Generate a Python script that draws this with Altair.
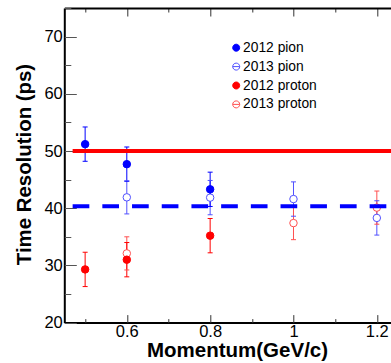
import altair as alt
import pandas as pd

# ---- data ----
series_names = ["2012 pion", "2013 pion", "2012 proton", "2013 proton"]

pion12_x = [0.5, 0.6, 0.8]
pion12_y = [51.2, 47.7, 43.3]
pion12_e = [3.0, 3.0, 3.0]

pion13_x = [0.6, 0.8, 1.0, 1.2]
pion13_y = [41.9, 41.85, 41.6, 38.3]
pion13_e = [2.9, 3.0, 3.0, 3.0]

proton12_x = [0.5, 0.6, 0.8]
proton12_y = [29.3, 31.0, 35.2]
proton12_e = [3.0, 3.0, 3.0]

proton13_x = [0.6, 1.0, 1.2]
proton13_y = [32.1, 37.4, 40.1]
proton13_e = [2.9, 2.9, 2.9]

fit_proton_y = [50.0]
fit_pion_y = [40.35]
fit_x_start = [0.47]
fit_x_end = [1.234]

x_label_values = [0.6, 0.8, 1.0, 1.2]
x_tick_values = [0.5, 0.6, 0.7, 0.8, 0.9, 1.0, 1.1, 1.2]
y_label_values = [20, 30, 40, 50, 60, 70]
y_tick_values = [20, 25, 30, 35, 40, 45, 50, 55, 60, 65, 70, 75]

# ---- tables ----
rows = []
# open markers first so the filled ones are drawn over them
for name, xs_, ys_, es_ in [
    ("2013 pion", pion13_x, pion13_y, pion13_e),
    ("2013 proton", proton13_x, proton13_y, proton13_e),
    ("2012 pion", pion12_x, pion12_y, pion12_e),
    ("2012 proton", proton12_x, proton12_y, proton12_e),
]:
    for x, y, e in zip(xs_, ys_, es_):
        rows.append({"series": name, "x": x, "y": y, "err": e})
df = pd.DataFrame(rows)

fit_red = pd.DataFrame({"x": fit_x_start, "x2": fit_x_end, "y": fit_proton_y})
fit_blue = pd.DataFrame({"x": fit_x_start, "x2": fit_x_end, "y": fit_pion_y})

W, H = 326.7, 314.6
XDOM = [0.45, 1.234]
YDOM = [20, 75]
FONT = "Liberation Sans"

stroke_cols = ["#0000ff", "#5050ff", "#ff0000", "#ff5050"]
fill_cols = ["#0000ff", "white", "#ff0000", "white"]
CIRC = "M-1,0A1,1,0,1,1,1,0A1,1,0,1,1,-1,0Z"
CIRC_LINE = "M-1,0A1,1,0,1,1,1,0A1,1,0,1,1,-1,0ZM-1,0L1,0"
shape_paths = [CIRC, CIRC_LINE, CIRC, CIRC_LINE]

xs = alt.Scale(domain=XDOM, nice=False, zero=False)
ys = alt.Scale(domain=YDOM, nice=False, zero=False)
stroke_scale = alt.Scale(domain=series_names, range=stroke_cols)
fill_scale = alt.Scale(domain=series_names, range=fill_cols)
shape_scale = alt.Scale(domain=series_names, range=shape_paths)

x_main_axis = alt.Axis(
    orient="bottom", values=x_label_values, format="~g", ticks=False, tickSize=0,
    domain=True, domainColor="black", domainWidth=2, grid=False,
    labelFont=FONT, labelFontSize=16.5, labelColor="black", labelPadding=1,
    titleFont=FONT, titleFontSize=20.5, titleFontWeight="bold", titleColor="black",
    titleX=172.7, titleY=34.3, titleBaseline="alphabetic", titleAlign="center",
)
y_main_axis = alt.Axis(
    orient="left", values=y_label_values, ticks=False, tickSize=0,
    domain=True, domainColor="black", domainWidth=2, grid=False,
    labelFont=FONT, labelFontSize=16.5, labelColor="black", labelPadding=2,
    titleFont=FONT, titleFontSize=20.4, titleFontWeight="bold", titleColor="black",
    titleX=-34, titleY=156, titleBaseline="alphabetic", titleAlign="center", titleAngle=270,
)
x_cond = {"condition": {"test": "round(datum.value*10) % 2 == 0", "value": 8}, "value": 4}
y_cond = {"condition": {"test": "round(datum.value) % 10 == 0", "value": 12}, "value": 6.5}

x_in_bottom = alt.Axis(
    orient="top", offset=-H, values=x_tick_values, labels=False, domain=False,
    grid=False, ticks=True, tickSize=x_cond, tickColor="#333333", tickWidth=1, title=None,
)
x_in_top = alt.Axis(
    orient="bottom", offset=-H, values=x_tick_values, labels=False, domain=True,
    domainColor="black", domainWidth=2, grid=False, ticks=True, tickSize=x_cond,
    tickColor="#333333", tickWidth=1, title=None,
)
y_in_left = alt.Axis(
    orient="right", offset=-W, values=y_tick_values, labels=False, domain=False,
    grid=False, ticks=True, tickSize=y_cond, tickColor="#555555", tickWidth=1, title=None,
)

leg = alt.Legend(
    orient="none", legendX=165, legendY=32.8, title=None,
    labelFont=FONT, labelFontSize=13.8, labelColor="black", labelOffset=0,
    symbolSize=49, symbolStrokeWidth=1, rowPadding=3.9,
)

base = alt.Chart(df)

err_rules = base.mark_rule(strokeWidth=1).transform_calculate(
    lo="datum.y - datum.err", hi="datum.y + datum.err"
).encode(
    x=alt.X("x:Q", scale=xs, axis=x_main_axis, title="Momentum(GeV/c)"),
    y=alt.Y("lo:Q", scale=ys, axis=y_main_axis, title="Time Resolution (ps)"),
    y2="hi:Q",
    stroke=alt.Stroke("series:N", scale=stroke_scale, legend=leg, title="series"),
)

cap_lo = base.mark_point(shape="stroke", size=25, strokeWidth=1, opacity=1).transform_calculate(
    lo="datum.y - datum.err"
).encode(
    x=alt.X("x:Q", scale=xs, axis=x_in_bottom),
    y=alt.Y("lo:Q", scale=ys, axis=y_in_left),
    stroke=alt.Stroke("series:N", scale=stroke_scale, legend=leg, title="series"),
)
cap_hi = base.mark_point(shape="stroke", size=25, strokeWidth=1, opacity=1).transform_calculate(
    hi="datum.y + datum.err"
).encode(
    x=alt.X("x:Q", scale=xs, axis=x_in_top),
    y=alt.Y("hi:Q", scale=ys, axis=None),
    stroke=alt.Stroke("series:N", scale=stroke_scale, legend=leg, title="series"),
)

points = base.mark_point(shape="circle", size=56, strokeWidth=1, opacity=1).encode(
    x=alt.X("x:Q", scale=xs, axis=None),
    y=alt.Y("y:Q", scale=ys, axis=None),
    stroke=alt.Stroke("series:N", scale=stroke_scale, legend=leg, title="series"),
    fill=alt.Fill("series:N", scale=fill_scale, legend=leg, title="series"),
)

# legend-only layer: its y is empty, so it draws nothing in the plot
legend_layer = base.mark_point(strokeWidth=1, opacity=1).transform_calculate(
    ynull="null"
).encode(
    x=alt.X("x:Q", scale=xs, axis=None),
    y=alt.Y("ynull:Q", scale=ys, axis=None),
    stroke=alt.Stroke("series:N", scale=stroke_scale, legend=leg, title="series"),
    fill=alt.Fill("series:N", scale=fill_scale, legend=leg, title="series"),
    shape=alt.Shape("series:N", scale=shape_scale, legend=leg, title="series"),
)

red_line = alt.Chart(fit_red).mark_rule(color="#ff0000", strokeWidth=4, clip=True).encode(
    x=alt.X("x:Q", scale=xs, axis=None),
    x2="x2:Q",
    y=alt.Y("y:Q", scale=ys, axis=None),
)
blue_line = alt.Chart(fit_blue).mark_rule(
    color="#0000ff", strokeWidth=4, strokeDash=[16.7, 13.0], clip=True
).encode(
    x=alt.X("x:Q", scale=xs, axis=None),
    x2="x2:Q",
    y=alt.Y("y:Q", scale=ys, axis=None),
)

chart = alt.layer(
    err_rules, cap_lo, cap_hi, points, legend_layer, red_line, blue_line
).resolve_axis(
    x="independent", y="independent"
).properties(
    width=W, height=H,
    autosize=alt.AutoSizeParams(type="none"),
    padding={"left": 64.3, "top": 8, "right": 0, "bottom": 40.4},
    background="white",
).configure_view(stroke=None)

chart.save("out.html", embed_options={"renderer": "svg", "actions": False})
